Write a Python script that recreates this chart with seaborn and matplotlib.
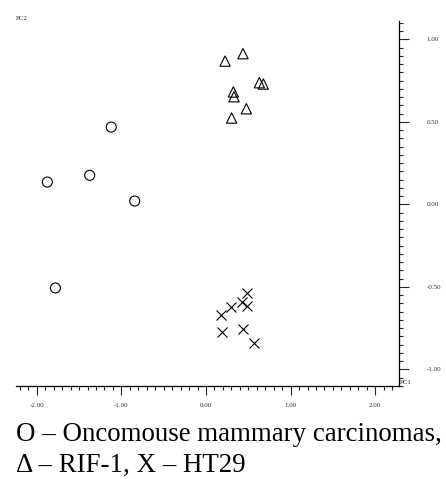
import matplotlib
matplotlib.use("Agg")
import matplotlib.pyplot as plt
from matplotlib.ticker import MultipleLocator, FormatStrFormatter
import seaborn as sns
import pandas as pd

# PCA scores
onco_pc1 = [-1.12, -1.876, -1.375, -0.843, -1.78]
onco_pc2 = [0.468, 0.135, 0.176, 0.02, -0.507]
rif_pc1 = [0.225, 0.437, 0.630, 0.677, 0.323, 0.331, 0.477, 0.303]
rif_pc2 = [0.868, 0.913, 0.737, 0.729, 0.681, 0.652, 0.579, 0.523]
ht_pc1 = [0.481, 0.422, 0.481, 0.292, 0.173, 0.185, 0.434, 0.571]
ht_pc2 = [-0.539, -0.594, -0.615, -0.620, -0.671, -0.772, -0.758, -0.843]

caption1 = "O \u2013 Oncomouse mammary carcinomas,"
caption2 = "\u0394 \u2013 RIF-1, X \u2013 HT29"

onco = pd.DataFrame({"PC1": onco_pc1, "PC2": onco_pc2})
rif = pd.DataFrame({"PC1": rif_pc1, "PC2": rif_pc2})
ht = pd.DataFrame({"PC1": ht_pc1, "PC2": ht_pc2})

sns.set_style("white")
plt.rcParams["font.family"] = ["Liberation Serif", "DejaVu Serif"]

W, H = 446, 479
fig = plt.figure(figsize=(W / 100, H / 100), dpi=100)
ax = fig.add_axes([16 / W, 1 - 386 / H, (399 - 16) / W, (386 - 21) / H])
ax.set_facecolor("white")

sns.scatterplot(data=onco, x="PC1", y="PC2", marker="o", s=52,
                facecolor="none", edgecolor="black", linewidth=0.8, ax=ax)
sns.scatterplot(data=rif, x="PC1", y="PC2", marker="^", s=55,
                facecolor="none", edgecolor="black", linewidth=0.8, ax=ax)
sns.scatterplot(data=ht, x="PC1", y="PC2", marker="x", s=52,
                color="black", linewidth=0.8, ax=ax)

ax.set_xlim(-2.246, 2.281)
ax.set_ylim(-1.101, 1.111)
ax.set_xlabel("")
ax.set_ylabel("")

for side in ["top", "left"]:
    ax.spines[side].set_visible(False)
for side in ["right", "bottom"]:
    ax.spines[side].set_color("black")
    ax.spines[side].set_linewidth(0.9)

ax.yaxis.tick_right()
ax.xaxis.set_major_locator(MultipleLocator(1.0))
ax.xaxis.set_minor_locator(MultipleLocator(0.1))
ax.yaxis.set_major_locator(MultipleLocator(0.5))
ax.yaxis.set_minor_locator(MultipleLocator(0.05))
ax.xaxis.set_major_formatter(FormatStrFormatter("%.2f"))
ax.yaxis.set_major_formatter(FormatStrFormatter("%.2f"))

ax.tick_params(axis="x", which="major", direction="out", length=6.5, width=0.8,
               pad=6, labelsize=5, labelcolor="#333333", bottom=True)
ax.tick_params(axis="x", which="minor", direction="out", length=3, width=0.8, bottom=True)
ax.tick_params(axis="y", which="major", direction="out", length=7, width=0.8,
               pad=13, labelsize=5, labelcolor="#333333", right=True, left=False)
ax.tick_params(axis="y", which="minor", direction="out", length=3, width=0.8,
               right=True, left=False)

fig.text(16 / W, 1 - 19 / H, "PC2", fontsize=5, va="center", ha="left", color="#333333")
fig.text(400 / W, 1 - 382 / H, "PC1", fontsize=5, va="center", ha="left", color="#333333")

fig.text(16 / W, 1 - 441 / H, caption1, fontsize=19.4, va="baseline", ha="left", color="black")
fig.text(16 / W, 1 - 472 / H, caption2, fontsize=19.4, va="baseline", ha="left", color="black")

fig.savefig("out.png", dpi=100, facecolor="white")
